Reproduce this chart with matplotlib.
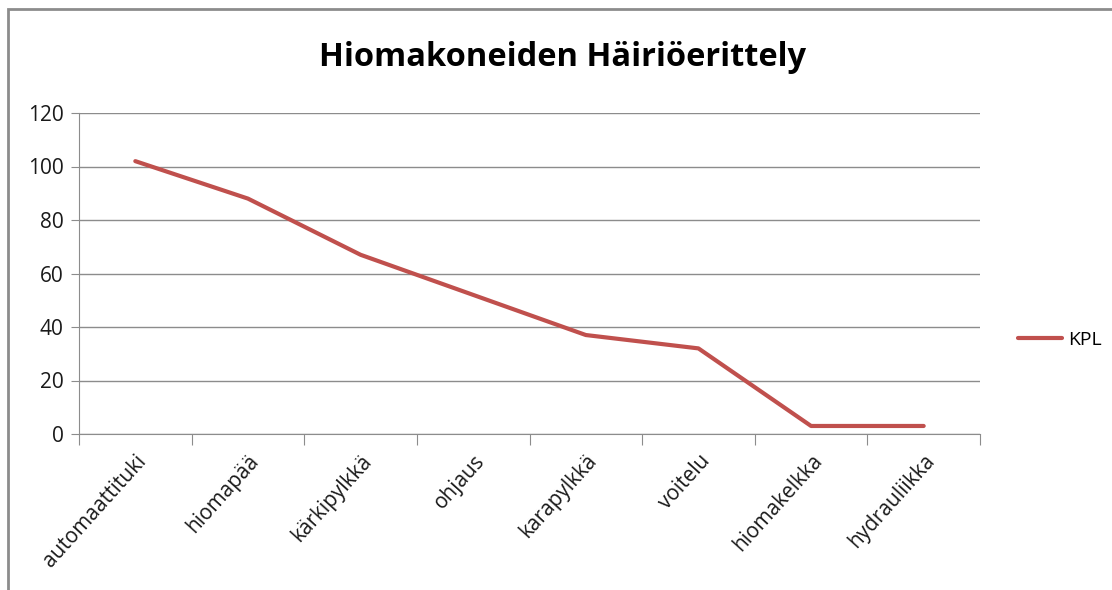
import numpy as np
import matplotlib.pyplot as plt
from matplotlib.patches import Rectangle

categories = ['automaattituki', 'hiomapää', 'kärkipylkkä', 'ohjaus',
              'karapylkkä', 'voitelu', 'hiomakelkka', 'hydrauliikka']
kpl = [102, 88, 67, 52, 37, 32, 3, 3]
y_ticks = [0, 20, 40, 60, 80, 100, 120]

plt.rcParams['font.family'] = ['Open Sans', 'DejaVu Sans']

fig = plt.figure(figsize=(11.12, 5.9), dpi=100)
fig.patch.set_facecolor('white')

# chart border (top and left edge visible in the crop)
fig.add_artist(Rectangle((8 / 1112, -0.1), 1.2, 1 - 9 / 590 + 0.1,
                         transform=fig.transFigure, fill=False,
                         edgecolor='#8c8c8c', linewidth=2))

ax = fig.add_axes([79 / 1112, 1 - 434 / 590, (980 - 79) / 1112, (434 - 113) / 590])

x = np.arange(len(categories))
ax.plot(x, kpl, color='#C0504D', linewidth=3, label='KPL', solid_capstyle='round')

ax.set_xlim(-0.5, len(categories) - 0.5)
ax.set_ylim(0, 120)
ax.set_yticks(y_ticks)
ax.yaxis.grid(True, color='#8c8c8c', linewidth=1)
ax.set_axisbelow(True)

ax.set_xticks(np.arange(len(categories) + 1) - 0.5)
ax.set_xticklabels([])
ax.set_xticks(x, minor=True)
ax.set_xticklabels(categories, minor=True, rotation=48, ha='right',
                   rotation_mode='anchor', fontsize=15, color='#1a1a1a')
ax.tick_params(axis='x', which='minor', length=0, pad=12)
ax.tick_params(axis='x', which='major', length=8, color='#8c8c8c')
ax.tick_params(axis='y', length=6, color='#8c8c8c', labelsize=15, pad=5,
               labelcolor='#1a1a1a')

for s in ['top', 'right']:
    ax.spines[s].set_visible(False)
for s in ['left', 'bottom']:
    ax.spines[s].set_color('#8c8c8c')

fig.text(0.506, 1 - 58 / 590, 'Hiomakoneiden Häiriöerittely', ha='center', va='center',
         fontsize=23.5, fontweight='bold', color='black')

fig.legend(loc='center left', bbox_to_anchor=(1000 / 1112, 1 - 340 / 590),
           frameon=False, fontsize=14, handlelength=2.3, handletextpad=0.3)

fig.savefig('out.png', dpi=100)
